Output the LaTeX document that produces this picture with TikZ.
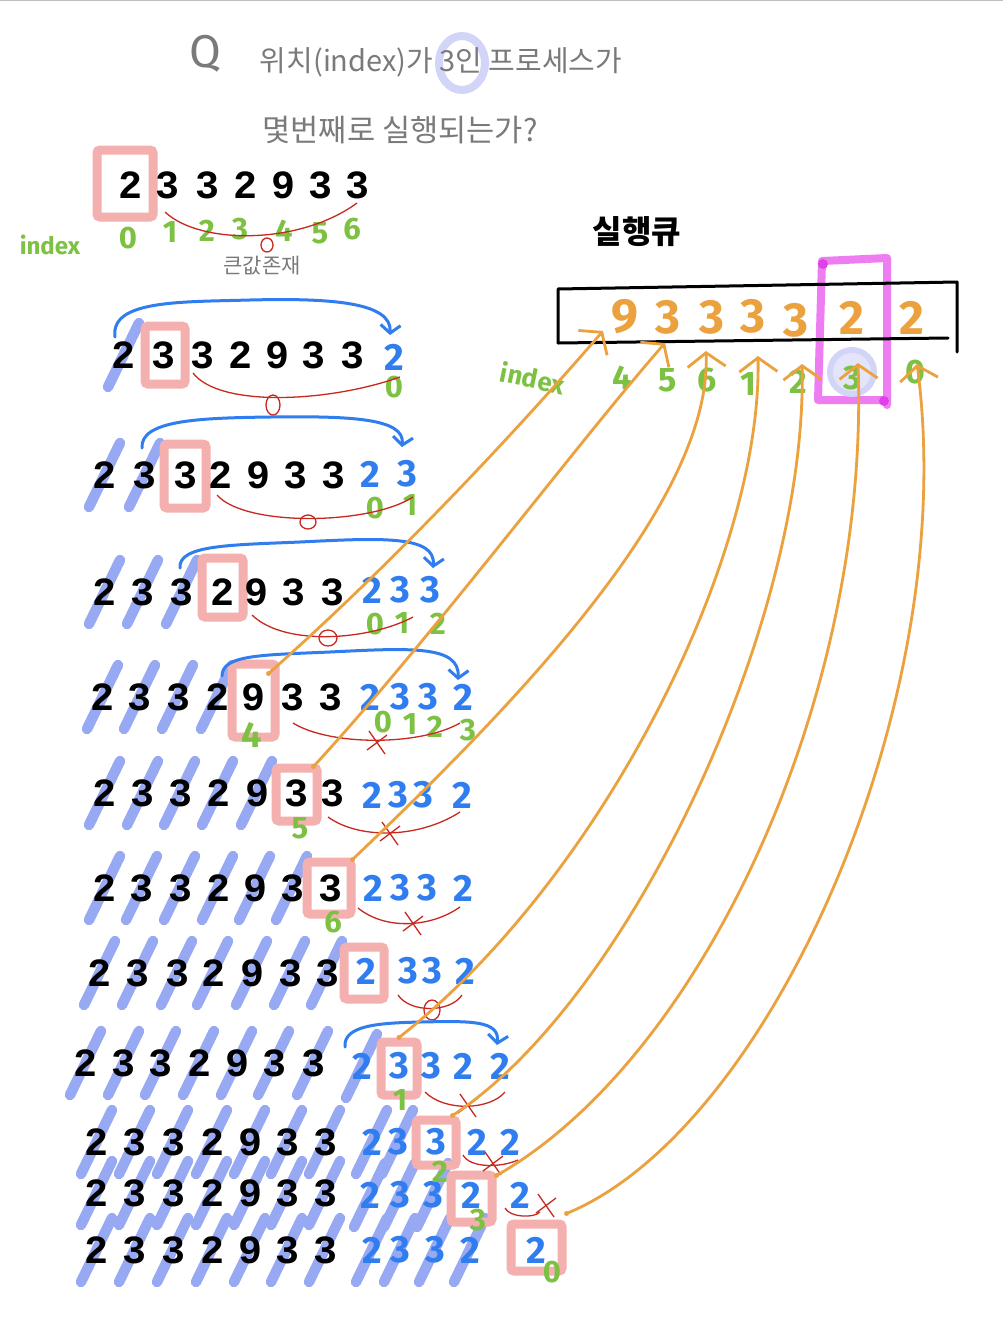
\documentclass[tikz,border=0pt]{standalone}
\usepackage{fontspec}
\usepackage{graphicx}
\newfontfamily\krfont{Noto Sans CJK KR}
\newfontfamily\hand{Fira Sans}
\newfontfamily\typew{Liberation Mono}
\usetikzlibrary{arrows.meta,calc}
\definecolor{pinkbox}{HTML}{F4AFAF}
\definecolor{strk}{HTML}{97A9F3}
\definecolor{bluet}{HTML}{2F7DEF}
\definecolor{redl}{HTML}{C8281E}
\definecolor{greent}{HTML}{7DC142}
\definecolor{orng}{HTML}{EBA13E}
\definecolor{mag}{HTML}{EE7DF2}
\definecolor{magd}{HTML}{E040E8}
\definecolor{lav}{HTML}{D3D5F8}
\definecolor{lavf}{HTML}{E4E5FB}
\definecolor{grayt}{HTML}{7A7A7A}
\pgfdeclarelayer{back}
\pgfdeclarelayer{bg}
\pgfsetlayers{back,bg,main}
\newcommand{\blkrow}[3]{\foreach \xx/\dd [count=\ii] in {#3} {\node[blk] (#1k\ii) at (\xx,#2) {\dd};}}
\newcommand{\blurow}[3]{\foreach \xx/\dd [count=\ii] in {#3} {\node[blu] (#1b\ii) at (\xx,#2) {\dd};}}
\newcommand{\mystk}[1]{\draw[strike] ([shift={(-16,32)}]#1.center) -- ([shift={(15,-32)}]#1.center);}
\newcommand{\redx}[2]{\draw[rarc] ({#1-8},{#2-11}) -- ({#1+8},{#2+12}) ({#1-10},{#2+8}) -- ({#1+10},{#2-7});}
\begin{document}
\begin{tikzpicture}[x=1pt,y=-1pt,
 blk/.style={font=\fontsize{40}{40}\selectfont\typew\bfseries, inner sep=0pt, text=black},
 blu/.style={font=\fontsize{38}{38}\selectfont\hand\bfseries, inner sep=0pt, text=bluet},
 grn/.style={font=\fontsize{31}{31}\selectfont\hand\bfseries, inner sep=0pt, text=greent},
 org/.style={font=\fontsize{48}{48}\selectfont\hand\bfseries, inner sep=0pt, text=orng},
 ttl/.style={font=\krfont, inner sep=0pt, text=grayt},
 pbox/.style={draw=pinkbox, line width=9pt, rounded corners=3pt, inner sep=0pt},
 strike/.style={draw=strk, line width=10.5pt, line cap=round},
 barc/.style={draw=bluet, line width=3pt, line cap=round, -{Straight Barb[length=8pt,width=20pt]}},
 rarc/.style={draw=redl, line width=1.3pt},
 oarc/.style={draw=orng, line width=2.8pt, line cap=round, -{Straight Barb[length=14pt,width=38pt,line width=2.8pt]}},
]
\begin{pgfonlayer}{back}
\fill[white] (0,0) rectangle (1003,1336);
\end{pgfonlayer}
\useasboundingbox (0,0) rectangle (1003,1336);
\draw[gray!50, line width=1pt] (0,0.5) -- (1003,0.5);

% ---------- title ----------
\begin{pgfonlayer}{bg}
\draw[lav, line width=8pt] (462,63) ellipse [x radius=23pt, y radius=27pt];
\end{pgfonlayer}
\node[ttl, font=\fontsize{46}{46}\selectfont\hand] (qq) at (205,54) {Q};
\node[ttl] (t1) at (441,62) {\resizebox{362pt}{!}{위치(index)가 3인 프로세스가}};
\node[ttl] (t2) at (400,130) {\resizebox{275pt}{!}{몇번째로 실행되는가?}};

% ---------- pink boxes ----------
\node[pbox, minimum width=56pt, minimum height=67pt] (bx0) at (125,183.5) {};
\node[pbox, minimum width=40pt, minimum height=58pt] (bx1) at (165,355) {};
\node[pbox, minimum width=42pt, minimum height=64pt] (bx2) at (185,476) {};
\node[pbox, minimum width=41pt, minimum height=59pt] (bx3) at (222.5,587.5) {};
\node[pbox, minimum width=43pt, minimum height=73pt] (bx4) at (253.5,700.5) {};
\node[pbox, minimum width=41pt, minimum height=53pt] (bx5) at (296.5,794.5) {};
\node[pbox, minimum width=44pt, minimum height=52pt] (bx6) at (329,888) {};
\node[pbox, minimum width=40pt, minimum height=52pt] (bx7) at (364,973) {};
\node[pbox, minimum width=36pt, minimum height=53pt] (bx8) at (399,1068.5) {};
\node[pbox, minimum width=40pt, minimum height=45pt] (bx9) at (436,1142.5) {};
\node[pbox, minimum width=41pt, minimum height=47pt] (bx10) at (471.5,1198.5) {};
\node[pbox, minimum width=51pt, minimum height=47pt] (bx11) at (536.5,1247.5) {};

% ---------- rows ----------
\blkrow{r0}{185}{131/2,168/3,207/3,245/2,283/9,320/3,357/3}
\blkrow{r1}{355}{124/2,164/3,202/3,240/2,277/9,313/3,352/3}
\blurow{r1}{357}{394/2}
\blkrow{r2}{475}{105/2,145/3,185/3,220/2,258/9,295/3,333/3}
\blurow{r2}{474}{370/2,407/3}
\blkrow{r3}{592}{105/2,143/3,182/3,222/2,256/9,293/3,332/3}
\blurow{r3}{590}{372/2,400/3,430/3}
\blkrow{r4}{697}{103/2,140/3,178/3,217/2,253/9,292/3,330/3}
\blurow{r4}{697}{370/2,400/3,428/3,463/2}
\blkrow{r5}{793}{105/2,143/3,180/3,218/2,257/9,296/3,332/3}
\blurow{r5}{795}{372/2,398/3,423/3,462/2}
\blkrow{r6}{888}{105/2,142/3,180/3,218/2,255/9,292/3,330/3}
\blurow{r6}{888}{373/2,400/3,427/3,463/2}
\blkrow{r7}{973}{100/2,138/3,177/3,213/2,252/9,290/3,327/3}
\blurow{r7}{971}{366/2,408/3,432/3,465/2}
\blkrow{r8}{1063}{86/2,124/3,161/3,199/2,237/9,274/3,313/3}
\blurow{r8}{1066}{362/2,399/3,431/3,463/2,500/2}
\blkrow{r9}{1142}{97/2,135/3,173/3,212/2,250/9,287/3,325/3}
\blurow{r9}{1142}{372/2,398/3,436/3,477/2,510/2}
\blkrow{r10}{1193}{97/2,135/3,173/3,212/2,250/9,287/3,325/3}
\blurow{r10}{1195}{370/2,400/3,433/3,471/2,520/2}
\blkrow{r11}{1250}{97/2,135/3,173/3,212/2,250/9,287/3,325/3}
\blurow{r11}{1250}{372/2,400/3,435/3,470/2,536/2}

% ---------- strikes ----------
\begin{pgfonlayer}{bg}
\foreach \n in {r1k1,r2k1,r2k2,r3k1,r3k2,r3k3,r4k1,r4k2,r4k3,r4k4,
  r5k1,r5k2,r5k3,r5k4,r5k5,r6k1,r6k2,r6k3,r6k4,r6k5,r6k6,
  r7k1,r7k2,r7k3,r7k4,r7k5,r7k6,r7k7,
  r8k1,r8k2,r8k3,r8k4,r8k5,r8k6,r8k7,r8b1,
  r9k1,r9k2,r9k3,r9k4,r9k5,r9k6,r9k7,r9b1,r9b2,
  r10k1,r10k2,r10k3,r10k4,r10k5,r10k6,r10k7,r10b1,r10b2,r10b3,
  r11k1,r11k2,r11k3,r11k4,r11k5,r11k6,r11k7,r11b1,r11b2,r11b3,r11b4} {\mystk{\n}}
\end{pgfonlayer}

% ---------- green index labels ----------
\node[grn, font=\fontsize{24}{24}\selectfont\hand\bfseries] (ix0) at (50,245) {index};
\foreach \xx/\yy/\dd [count=\ii] in {128/238/0,170/232/1,207/231/2,240/229/3,284/231/4,320/233/5,352/229/6}
  {\node[grn] (g0n\ii) at (\xx,\yy) {\dd};}
\node[grn] (g1a) at (394,387) {0};
\node[grn] (g2a) at (375,508) {0};
\node[grn] (g2b) at (410,505) {1};
\node[grn] (g3a) at (375,624) {0};
\node[grn] (g3b) at (402,623) {1};
\node[grn] (g3c) at (438,624) {2};
\node[grn, font=\fontsize{36}{36}\selectfont\hand\bfseries] (g4a) at (252,735) {4};
\node[grn] (g4b) at (383,722) {0};
\node[grn] (g4c) at (410,724) {1};
\node[grn] (g4d) at (435,727) {2};
\node[grn] (g4e) at (468,730) {3};
\node[grn] (g5a) at (300,828) {5};
\node[grn] (g6a) at (333,922) {6};
\node[grn] (g8a) at (400,1100) {1};
\node[grn] (g9a) at (440,1172) {2};
\node[grn] (g10a) at (478,1220) {3};
\node[grn] (g11a) at (552,1272) {0};
\node[ttl, font=\fontsize{21}{21}\selectfont\krfont] (big) at (262,266) {큰값존재};

% ---------- red arcs ----------
\draw[rarc] (165,212) .. controls (200,245) and (300,245) .. (357,203);
\draw[rarc] (267,245) ellipse [x radius=6pt, y radius=7pt];
\draw[rarc] (193,373) .. controls (220,408) and (330,402) .. (400,377);
\draw[rarc] (273,405) ellipse [x radius=7pt, y radius=10pt];
\draw[rarc] (217,495) .. controls (245,527) and (370,525) .. (413,497);
\draw[rarc] (308,522) ellipse [x radius=8pt, y radius=7pt];
\draw[rarc] (252,615) .. controls (285,647) and (370,640) .. (413,617);
\draw[rarc] (328,638) ellipse [x radius=9pt, y radius=8pt];
\draw[rarc] (293,723) .. controls (330,746) and (420,746) .. (460,723);
\redx{377}{742}
\draw[rarc] (328,817) .. controls (360,840) and (420,838) .. (460,812);
\redx{390}{833}
\draw[rarc] (358,908) .. controls (385,930) and (430,928) .. (460,907);
\redx{413}{923}
\draw[rarc] (398,995) .. controls (410,1013) and (450,1013) .. (462,995);
\draw[rarc] (432,1010) ellipse [x radius=8pt, y radius=10pt];
\draw[rarc] (425,1092) .. controls (445,1112) and (490,1110) .. (505,1092);
\redx{468}{1105}
\draw[rarc] (463,1155) .. controls (470,1168) and (500,1168) .. (518,1160);
\redx{493}{1163}
\draw[rarc] (505,1208) .. controls (510,1218) and (535,1218) .. (540,1212);
\redx{546}{1205}

% ---------- blue move arcs ----------
\draw[barc] ([shift={(-9,-18)}]r1k1.center) .. controls (110,300) and (180,302) .. (250,300) .. controls (330,298) and (392,302) .. ([shift={(-4,-22)}]r1b1.center);
\draw[barc] ([shift={(-3,-27)}]r2k2.center) .. controls (140,420) and (200,418) .. (270,417) .. controls (350,416) and (405,418) .. ([shift={(-5,-27)}]r2b2.center);
\draw[barc] ([shift={(-2,-24)}]r3k3.center) .. controls (178,545) and (230,545) .. (300,542) .. controls (380,538) and (436,535) .. ([shift={(3,-22)}]r3b3.center);
\draw[barc] ([shift={(5,-21)}]r4k4.center) .. controls (222,655) and (260,655) .. (330,652) .. controls (410,648) and (460,645) .. ([shift={(-5,-17)}]r4b4.center);
\draw[barc] ([shift={(-17,-19)}]r8b1.center) .. controls (343,1025) and (380,1023) .. (420,1022) .. controls (470,1021) and (500,1020) .. ([shift={(-3,-21)}]r8b5.center);

% ---------- run queue ----------
\node[font=\fontsize{32}{32}\selectfont\krfont\bfseries, inner sep=0pt] (rq) at (637,232) {실행큐};
\begin{pgfonlayer}{bg}
\draw[mag, line width=8pt, line cap=round, line join=round] (887,405) -- (887,258) -- (822,261) -- (818,400) -- (885,400);
\fill[magd] (823,264) circle[radius=5pt];
\fill[magd] (884,401) circle[radius=5pt];
\draw[lav, fill=lavf, line width=6pt] (852,372) circle[radius=22pt];
\end{pgfonlayer}
\draw[line width=3pt, line cap=round, line join=round] (558,343) -- (558,289) -- (957,282) -- (957,352);
\draw[line width=3pt, line cap=round] (558,343) -- (948,338);
\foreach \xx/\yy/\dd [count=\ii] in {625/317/9,668/317/3,712/317/3,753/316/3,796/320/3,852/318/2,912/318/2}
  {\node[org] (q\ii) at (\xx,\yy) {\dd};}
\node[grn, font=\fontsize{26}{26}\selectfont\hand\bfseries, rotate=-12] (ixq) at (533,378) {index};
\foreach \xx/\yy/\dd/\nm in {622/378/4/qi4,668/380/5/qi5,707/380/6/qi6,748/384/1/qi1,798/382/2/qi2,852/378/3/qi3,915/372/0/qi0}
  {\node[grn, font=\fontsize{34}{34}\selectfont\hand\bfseries] (\nm) at (\xx,\yy) {\dd};}

% ---------- orange connectors ----------
\coordinate (oA) at ([shift={(-11,14)}]bx4.north east);
\coordinate (oB) at ([shift={(-8,3)}]bx5.north east);
\coordinate (oC) at ([shift={(-3,2)}]bx6.north east);
\coordinate (oD) at (bx8.north);
\coordinate (oE) at ([shift={(-8,0)}]bx9.north east);
\coordinate (oF) at ([shift={(0,5)}]bx10.north east);
\coordinate (oG) at ([shift={(0,-6)}]bx11.north east);
\coordinate (eA) at (603,331);
\coordinate (eB) at (665,343);
\coordinate (eC) at (706,351);
\coordinate (eD) at (758,356);
\coordinate (eE) at (802,364);
\coordinate (eF) at (858,363);
\coordinate (eG) at (917,364);
\draw[oarc] (oA) .. controls (380,575) and (500,450) .. (eA);
\draw[oarc] (oB) .. controls (430,640) and (580,440) .. (eB);
\draw[oarc] (oC) .. controls (520,700) and (712,500) .. (eC);
\draw[oarc] (oD) .. controls (600,880) and (762,560) .. (eD);
\draw[oarc] (oE) .. controls (630,1000) and (808,620) .. (eE);
\draw[oarc] (oF) .. controls (700,1060) and (870,700) .. (eF);
\draw[oarc] (oG) .. controls (770,1130) and (962,700) .. (eG);
\foreach \c in {oA,oB,oC,oD,oE,oF,oG} {\fill[orng] (\c) circle[radius=2.5pt];}
\end{tikzpicture}
\end{document}
